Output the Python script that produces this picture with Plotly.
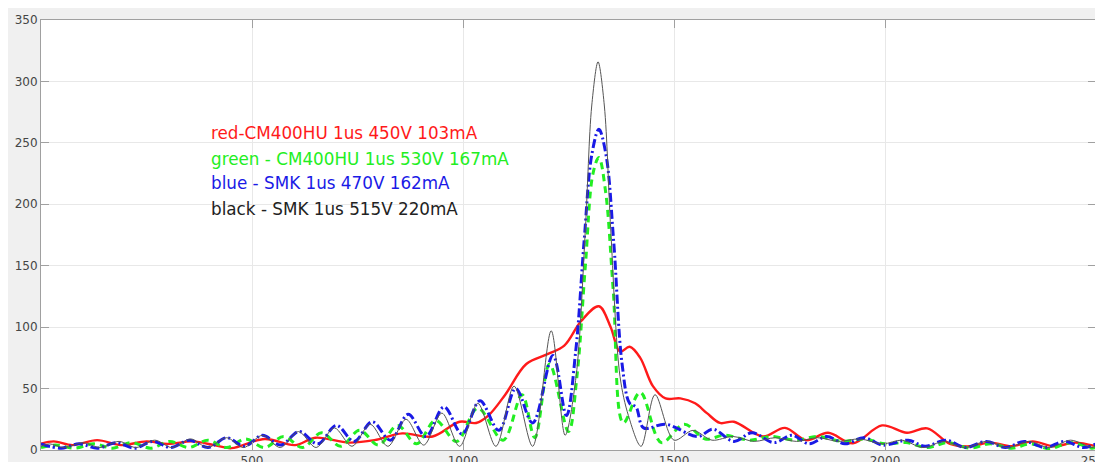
import plotly.graph_objects as go

# ---- data ----
red_x = [0, 30, 75, 133, 190, 250, 300, 360, 410, 451, 530, 602, 650, 730, 790, 856, 928, 992, 1031, 1060,
         1100, 1150, 1200, 1240, 1280, 1322, 1350, 1372, 1395, 1420, 1450, 1480, 1515, 1550, 1578, 1609,
         1642, 1711, 1763, 1813, 1865, 1924, 1993, 2052, 2100, 2154, 2200, 2250, 2300, 2350, 2400, 2450, 2500]
red_y = [5, 7, 4, 8, 4, 7, 5, 7, 4, 1.5, 9, 4, 10, 6, 8, 13.5, 11, 23, 22, 28,
         45, 70, 78, 85, 105, 117, 100, 80, 84, 75, 52, 42, 42, 38, 30, 22,
         23, 11, 18, 8, 14, 5.5, 20, 14, 17.6, 5, 3, 6, 3, 7, 3, 6, 3]

green_x = [0, 35, 80, 125, 170, 215, 260, 305, 350, 395, 440, 485, 530, 575, 620, 665, 710, 755, 800, 845,
           890, 935, 985, 1035, 1095, 1140, 1170, 1205, 1250, 1270, 1290, 1308, 1322, 1338, 1356, 1380,
           1420, 1470, 1524, 1574, 1620, 1680, 1730, 1790, 1840, 1900, 1950, 2000, 2050, 2100, 2150,
           2200, 2250, 2300, 2345, 2390, 2440, 2490, 2500]
green_y = [2, 4, 1.5, 5, 1.5, 6, 1.5, 7, 2, 8, 2, 9, 2, 11, 2, 14, 3, 16, 4, 20,
           5, 24, 7, 34, 8, 45, 10, 70, 15, 60, 150, 225, 238, 210, 130, 22,
           47, 6, 21, 9, 12, 8, 11, 8, 11, 7, 9, 5, 6, 2, 6,
           1.5, 5, 1.5, 5, 1, 6, 1.5, 2]

blue_x = [0, 48, 90, 134, 178, 222, 265, 308, 352, 396, 440, 482, 525, 568, 612, 656, 700, 742, 785, 828,
          870, 912, 955, 998, 1040, 1085, 1125, 1165, 1213, 1245, 1267, 1287, 1305, 1322, 1339, 1357,
          1377, 1395, 1410, 1428, 1480, 1557, 1592, 1642, 1685, 1737, 1780, 1820, 1862, 1905, 1950,
          1995, 2055, 2095, 2145, 2190, 2240, 2285, 2330, 2380, 2425, 2470, 2500]
blue_y = [5, 1.5, 5, 1.5, 6, 1.5, 7, 2, 8, 2, 10, 3, 12, 4, 15, 5, 20, 7, 23, 8,
          29, 11, 35, 13, 40, 16, 50, 22, 77, 28, 80, 170, 240, 261, 240, 170,
          70, 38, 35, 18, 21, 11, 17, 7, 14, 6, 12, 5, 11, 5, 10,
          4, 8, 3, 8, 2, 7, 2, 7, 2, 7, 2, 5]

black_x = [0, 20, 55, 100, 140, 185, 225, 270, 310, 355, 395, 440, 480, 525, 567, 610, 652, 695, 737, 780,
           822, 865, 907, 950, 992, 1035, 1078, 1121, 1165, 1209, 1242, 1268, 1290, 1305, 1320, 1335,
           1350, 1372, 1392, 1422, 1455, 1500, 1545, 1590, 1640, 1690, 1740, 1790, 1840, 1890, 1940,
           1995, 2040, 2090, 2140, 2190, 2240, 2290, 2340, 2390, 2440, 2490, 2500]
black_y = [3, 5, 2, 6, 2, 7, 2, 8, 2, 9, 2, 10, 2, 12, 2, 15, 2, 18, 3, 21,
           3, 25, 4, 30, 3, 38, 3, 52, 3, 97, 12, 60, 180, 280, 316, 280,
           180, 60, 28, 3, 45, 8, 16, 8, 11, 7, 10, 7, 10, 7, 9,
           5, 8, 2, 7, 2, 7, 2, 7, 2, 8, 2, 3]

legend_texts = ["red-CM400HU 1us 450V 103mA",
                "green - CM400HU 1us 530V 167mA",
                "blue - SMK 1us 470V 162mA",
                "black - SMK 1us 515V 220mA"]
legend_colors = ["#ff1a1a", "#22ee22", "#1a1ae6", "#222222"]
legend_y = [258, 237, 217, 196]

x_ticks = [500, 1000, 1500, 2000, 2500]
y_ticks = [0, 50, 100, 150, 200, 250, 300, 350]

fig = go.Figure()
fig.add_trace(go.Scatter(x=red_x, y=red_y, mode="lines",
                         line=dict(color="#ff1a1a", width=2.4, shape="spline", smoothing=1.0)))
fig.add_trace(go.Scatter(x=green_x, y=green_y, mode="lines",
                         line=dict(color="#22ee22", width=3, dash="7px,5px", shape="spline", smoothing=1.0)))
fig.add_trace(go.Scatter(x=blue_x, y=blue_y, mode="lines",
                         line=dict(color="#1a1ae6", width=3, dash="9px,3px,2px,3px", shape="spline", smoothing=1.0)))
fig.add_trace(go.Scatter(x=black_x, y=black_y, mode="lines",
                         line=dict(color="#555555", width=1, shape="spline", smoothing=0.9)))

for t, c, yy in zip(legend_texts, legend_colors, legend_y):
    fig.add_annotation(x=399, y=yy, xref="x", yref="y", text=t, showarrow=False,
                       xanchor="left", yanchor="middle",
                       font=dict(family="DejaVu Sans", size=16.8, color=c))

axis_common = dict(showline=True, linecolor="#a0a0a0", linewidth=1, mirror="ticks",
                   ticks="inside", ticklen=8, tickcolor="#a0a0a0", automargin=False,
                   showgrid=True, gridcolor="#e8e8e8", gridwidth=1, zeroline=False,
                   tickfont=dict(family="DejaVu Sans", size=12, color="#454545"))

fig.update_xaxes(range=[0, 2500], tickvals=x_ticks, ticktext=[str(v) for v in x_ticks],
                 ticklabeloverflow="allow", **axis_common)
fig.update_yaxes(range=[0, 350], tickvals=y_ticks, ticktext=[str(v) for v in y_ticks], **axis_common)

fig.update_layout(width=1095, height=454, showlegend=False,
                  margin=dict(l=33, r=7, t=12, b=12, autoexpand=False),
                  paper_bgcolor="#f0f0f0", plot_bgcolor="#ffffff")

fig.write_html("out.html")
